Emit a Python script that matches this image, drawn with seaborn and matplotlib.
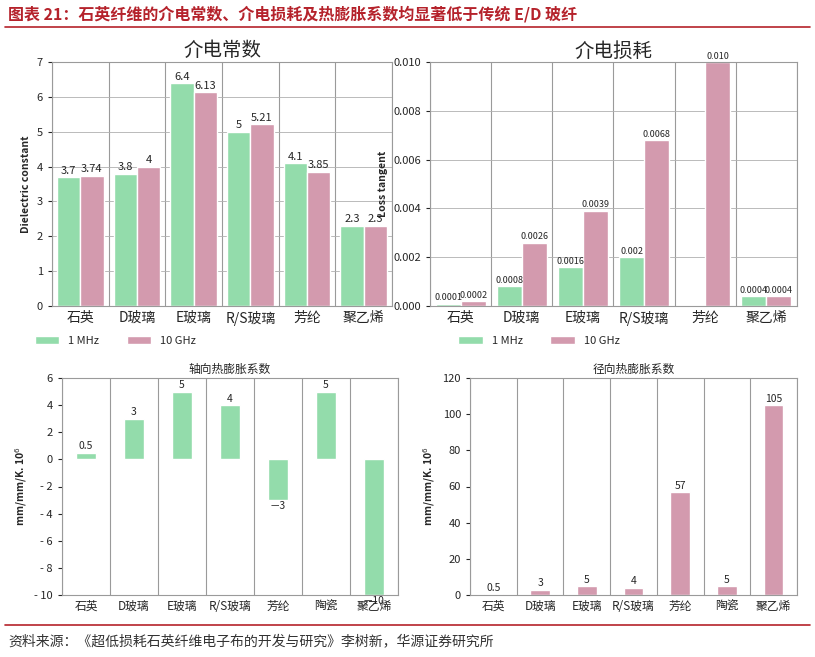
import matplotlib
matplotlib.use("Agg")
import matplotlib.pyplot as plt
import seaborn as sns
import pandas as pd
import numpy as np

sns.set_style("white")
plt.rcParams['font.family'] = ['Noto Sans CJK SC', 'DejaVu Sans']

cats_top = ["石英", "D玻璃", "E玻璃", "R/S玻璃", "芳纶", "聚乙烯"]
dk_1mhz = [3.7, 3.8, 6.4, 5.0, 4.1, 2.3]
dk_10ghz = [3.74, 4.0, 6.13, 5.21, 3.85, 2.3]
dk_1mhz_lbl = ["3.7", "3.8", "6.4", "5", "4.1", "2.3"]
dk_10ghz_lbl = ["3.74", "4", "6.13", "5.21", "3.85", "2.3"]
df_1mhz = [0.0001, 0.0008, 0.0016, 0.002, 0.0, 0.0004]
df_10ghz = [0.0002, 0.0026, 0.0039, 0.0068, 0.010, 0.0004]
df_1mhz_lbl = ["0.0001", "0.0008", "0.0016", "0.002", "", "0.0004"]
df_10ghz_lbl = ["0.0002", "0.0026", "0.0039", "0.0068", "0.010", "0.0004"]
cats_bot = ["石英", "D玻璃", "E玻璃", "R/S玻璃", "芳纶", "陶瓷", "聚乙烯"]
axial = [0.5, 3, 5, 4, -3, 5, -10]
axial_lbl = ["0.5", "3", "5", "4", "－3", "5", "－10"]
radial = [0.5, 3, 5, 4, 57, 5, 105]
radial_lbl = ["0.5", "3", "5", "4", "57", "5", "105"]

GREEN = "#93dcab"
PINK = "#d39aae"
RED = "#b5222b"
W, H = 815, 657
fig = plt.figure(figsize=(W/100, H/100), dpi=100)

def ax_px(x0, y0, x1, y1):
    return fig.add_axes([x0/W, 1-y1/H, (x1-x0)/W, (y1-y0)/H])

def style(ax, n, ylim, yticks, ylab, title, tsize, ticklabels=None):
    ax.set_ylim(*ylim)
    ax.set_yticks(yticks)
    if ticklabels:
        ax.set_yticklabels(ticklabels)
    ax.set_xlim(-0.5, n-0.5)
    for i in range(n+1):
        ax.axvline(i-0.5, color="#9a9a9a", lw=0.8, zorder=0)
    for s in ax.spines.values():
        s.set_color("#9a9a9a"); s.set_linewidth(0.8)
    ax.set_xlabel("")
    ax.set_ylabel(ylab, fontsize=7.5, fontweight="bold")
    ax.set_title(title, fontsize=tsize, pad=4)
    ax.tick_params(axis="y", labelsize=8, length=3, left=True)
    ax.tick_params(axis="x", labelsize=10, length=0)

def two_series(ax, cats, a, b, la, lb, fmt_size):
    df = pd.DataFrame({"cat": cats*2, "val": a+b,
                       "s": ["1 MHz"]*len(cats)+["10 GHz"]*len(cats)})
    sns.barplot(data=df, x="cat", y="val", hue="s", palette=[GREEN, PINK],
                ax=ax, width=0.82, legend=True, saturation=1, zorder=2)
    for cont, lbl in zip(ax.containers, [la, lb]):
        ax.bar_label(cont, labels=lbl, fontsize=fmt_size, padding=1)

# top-left
ax1 = ax_px(52, 62, 392, 306)
two_series(ax1, cats_top, dk_1mhz, dk_10ghz, dk_1mhz_lbl, dk_10ghz_lbl, 8)
style(ax1, 6, (0, 7), range(0, 8), "Dielectric constant", "介电常数", 14)
ax1.grid(axis="y", color="#b0b0b0", lw=0.6)
ax1.set_axisbelow(True)
ax1.legend(loc="upper left", bbox_to_anchor=(-0.08, -0.08), ncol=2, frameon=False,
           fontsize=8, handlelength=2.2, columnspacing=2.5)

# top-right
ax2 = ax_px(430, 62, 797, 306)
two_series(ax2, cats_top, df_1mhz, df_10ghz, df_1mhz_lbl, df_10ghz_lbl, 6.5)
style(ax2, 6, (0, 0.010), np.arange(0, 0.0101, 0.002), "Loss tangent", "介电损耗", 14,
      ["0.000", "0.002", "0.004", "0.006", "0.008", "0.010"])
ax2.grid(axis="y", color="#b0b0b0", lw=0.6)
ax2.set_axisbelow(True)
ax2.legend(loc="upper left", bbox_to_anchor=(0.05, -0.08), ncol=2, frameon=False,
           fontsize=8, handlelength=2.2, columnspacing=2.5)

# bottom-left
ax3 = ax_px(62, 378, 398, 595)
dfa = pd.DataFrame({"cat": cats_bot, "val": axial})
sns.barplot(data=dfa, x="cat", y="val", color=GREEN, ax=ax3, width=0.42, saturation=1)
ax3.bar_label(ax3.containers[0], labels=axial_lbl, fontsize=7.5, padding=1)
style(ax3, 7, (-10, 6), range(-10, 7, 2), "mm/mm/K. 10$^6$", "轴向热膨胀系数", 8.5,
      ["- 10", "- 8", "- 6", "- 4", "- 2", "0", "2", "4", "6"])
ax3.tick_params(axis="x", labelsize=8.5)

# bottom-right
ax4 = ax_px(470, 378, 797, 595)
dfr = pd.DataFrame({"cat": cats_bot, "val": radial})
sns.barplot(data=dfr, x="cat", y="val", color=PINK, ax=ax4, width=0.42, saturation=1)
ax4.bar_label(ax4.containers[0], labels=radial_lbl, fontsize=7.5, padding=1)
style(ax4, 7, (0, 120), range(0, 121, 20), "mm/mm/K. 10$^6$", "径向热膨胀系数", 8.5)
ax4.tick_params(axis="x", labelsize=8.5)

fig.text(8/W, 1-14/H, "图表 21：石英纤维的介电常数、介电损耗及热膨胀系数均显著低于传统 E/D 玻纤",
         color=RED, fontsize=11.5, fontweight="bold", va="center")
fig.add_artist(plt.Line2D([5/W, 810/W], [1-27/H, 1-27/H], color=RED, lw=1.2))
fig.add_artist(plt.Line2D([5/W, 810/W], [1-625/H, 1-625/H], color=RED, lw=1.2))
fig.text(8/W, 1-641/H, "资料来源：《超低损耗石英纤维电子布的开发与研究》李树新，华源证券研究所",
         color="#333333", fontsize=10, va="center")

fig.savefig("out.png", dpi=100)
